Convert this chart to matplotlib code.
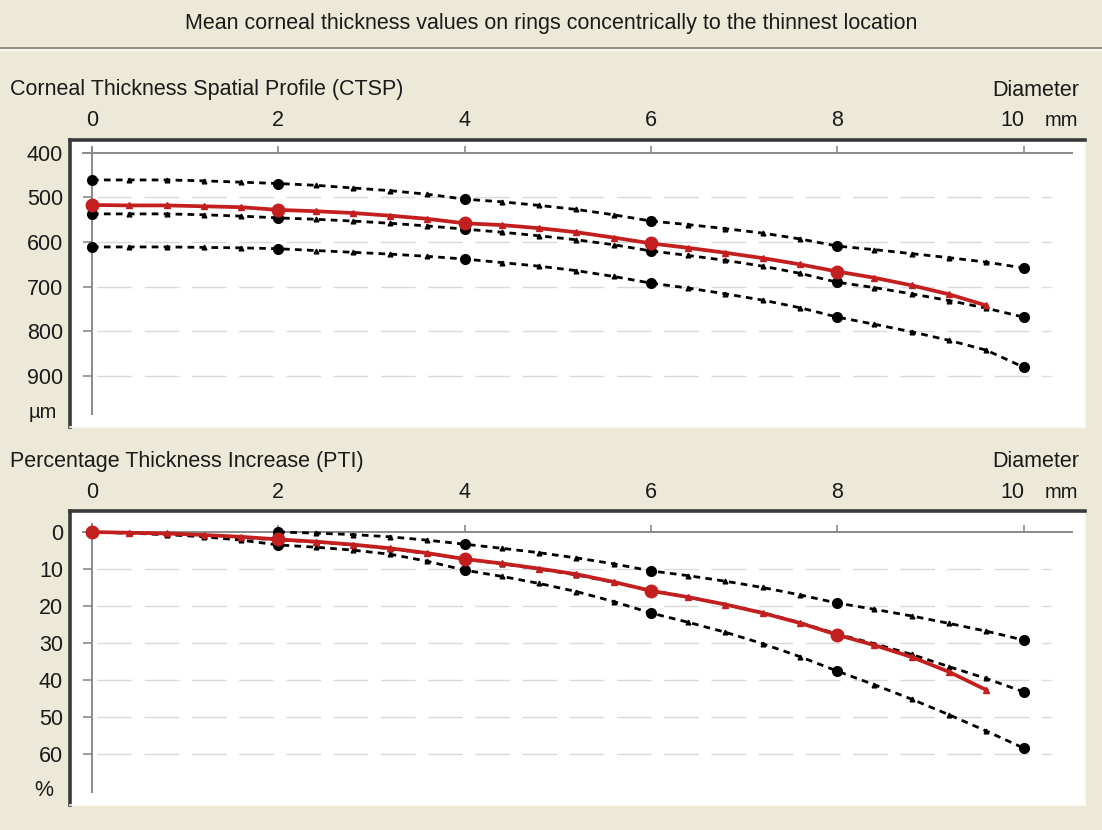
import matplotlib
matplotlib.use("Agg")
import matplotlib.pyplot as plt
from matplotlib.lines import Line2D

# ring diameters (mm), sampled every 0.4 mm
ring_mm = [0.0, 0.4, 0.8, 1.2, 1.6, 2.0, 2.4, 2.8, 3.2, 3.6, 4.0, 4.4, 4.8,
           5.2, 5.6, 6.0, 6.4, 6.8, 7.2, 7.6, 8.0, 8.4, 8.8, 9.2, 9.6, 10.0]

# CTSP (um): patient curve (to 9.6 mm) and normative bands
ctsp_patient = [517, 518, 518, 520, 522, 528, 531, 535, 541, 548, 558, 562, 569,
                578, 590, 603, 613, 624, 636, 650, 666, 680, 697, 717, 742]
ctsp_upper = [461, 461, 461, 463, 466, 469, 473, 479, 485, 493, 504, 510, 518,
              527, 539, 553, 561, 570, 580, 593, 609, 617, 626, 635, 645, 658]
ctsp_mean = [537, 537, 537, 539, 542, 546, 549, 553, 558, 564, 571, 578, 586,
             595, 606, 620, 630, 641, 654, 670, 690, 702, 716, 731, 748, 768]
ctsp_lower = [611, 611, 611, 612, 613, 615, 619, 623, 627, 632, 638, 646, 654,
              664, 677, 692, 703, 716, 730, 747, 768, 784, 801, 820, 842, 880]

# PTI (%): patient curve and normative bands (upper band starts at 2 mm)
pti_patient = [0, 0.2, 0.4, 0.8, 1.3, 2.0, 2.6, 3.4, 4.4, 5.7, 7.3, 8.5, 9.9,
               11.4, 13.5, 15.9, 17.6, 19.6, 21.9, 24.6, 27.8, 30.6, 33.8, 37.8, 42.7]
pti_upper = [0, 0.3, 0.7, 1.3, 2.2, 3.3, 4.4, 5.6, 7.0, 8.6, 10.5,
             11.8, 13.3, 15.0, 17.0, 19.2, 20.9, 22.7, 24.7, 26.8, 29.2]
pti_mean = [0, 0.3, 0.6, 1.0, 1.5, 2.1, 2.7, 3.5, 4.5, 5.8, 7.3, 8.6, 10.0,
            11.6, 13.6, 15.8, 17.6, 19.6, 21.8, 24.5, 27.6, 30.2, 33.1, 36.4, 39.6, 43.2]
pti_lower = [0, 0.3, 0.7, 1.3, 2.2, 3.5, 4.1, 4.9, 6.0, 7.9, 10.3, 12.0, 13.9,
             16.1, 18.8, 21.9, 24.4, 27.1, 30.2, 33.7, 37.6, 41.3, 45.2, 49.4, 53.8, 58.4]

mm_ticks = [0, 2, 4, 6, 8, 10]
ctsp_ticks = [400, 500, 600, 700, 800, 900]
pti_ticks = [0, 10, 20, 30, 40, 50, 60]

W, H = 1102, 830
BG = '#ECE9D8'
RED = '#c41f1f'
AXIS_GRAY = '#8a8a8a'
TXT = '#1a1a1a'
FS = 15.5
plt.rcParams['font.family'] = ['Liberation Sans', 'DejaVu Sans']

fig = plt.figure(figsize=(W / 100, H / 100), dpi=100, facecolor=BG)


def fx(px):
    return px / W


def fy(py):
    return 1 - py / H


# header with etched separator
fig.text(fx(551), fy(24), 'Mean corneal thickness values on rings concentrically to the thinnest location',
         ha='center', va='center', fontsize=FS, color=TXT)
fig.add_artist(Line2D([0, 1], [fy(48), fy(48)], color='#8f8d84', lw=1.4))
fig.add_artist(Line2D([0, 1], [fy(50), fy(50)], color='#fbfaf4', lw=1.2))


def even_mm(x):
    return [i for i, v in enumerate(x) if abs(v - round(v)) < 1e-6 and round(v) % 2 == 0]


def draw_band(ax, x, y):
    ax.plot(x, y, color='black', lw=2.0, ls=(0, (2.4, 1.9)), marker='^', ms=3.4, zorder=3)
    ax.plot(x, y, ls='none', marker='o', ms=7, color='black', markevery=even_mm(x), zorder=3)


def draw_patient(ax, x, y):
    ax.plot(x, y, color=RED, lw=2.7, marker='^', ms=4, zorder=4)
    ax.plot(x, y, ls='none', marker='o', ms=9, color=RED, markevery=even_mm(x), zorder=4)


def setup_panel(ax, title, yticks, y0, y_axis_top, y_axis_bot, y_tick_top, box_top_px):
    ax.set_facecolor('white')
    for side in ['top', 'left']:
        ax.spines[side].set_color('#3a3a3a')
        ax.spines[side].set_linewidth(2.6)
    for side in ['bottom', 'right']:
        ax.spines[side].set_color('#fbfbf7')
        ax.spines[side].set_linewidth(1.2)
    ax.set_xlim(-0.236, 10.66)
    ax.set_xticks([])
    ax.set_yticks(yticks)
    ax.set_yticklabels([str(v) for v in yticks], fontsize=FS, color=TXT)
    ax.tick_params(axis='y', length=0, pad=5)

    # inner axis lines, tick marks and dashed grid
    ax.hlines(y0, -0.107, 10.53, color=AXIS_GRAY, lw=1.4, zorder=2)
    ax.vlines(0, y_axis_top, y_axis_bot, color=AXIS_GRAY, lw=1.4, zorder=2)
    ax.vlines(mm_ticks, y_tick_top, y0, color=AXIS_GRAY, lw=1.2, zorder=2)
    ax.hlines(yticks[1:], -0.1, 0, color=AXIS_GRAY, lw=1.2, zorder=2)
    ax.hlines(yticks[1:], 0.05, 10.3, color='#d9d9d9', lw=1.0,
              linestyles=(0, (25, 9)), zorder=1)

    # diameter labels above the box
    for v in mm_ticks:
        dx = -11 if v == 10 else 0
        ax.annotate(str(v), (v, 1), xycoords=('data', 'axes fraction'), xytext=(dx, 19),
                    textcoords='offset pixels', ha='center', va='center',
                    fontsize=FS, color=TXT)
    fig.text(fx(1061), fy(box_top_px - 19), 'mm', ha='center', va='center', fontsize=FS - 1, color=TXT)
    fig.text(fx(1079), fy(box_top_px - 50), 'Diameter', ha='right', va='center', fontsize=FS, color=TXT)
    fig.text(fx(10), fy(box_top_px - 50), title, ha='left', va='center', fontsize=FS, color=TXT)


# Corneal Thickness Spatial Profile
ax1 = fig.add_axes([fx(70), fy(427), (1085 - 70) / W, (427 - 140) / H])
ax1.set_ylim(1014, 371.6)
setup_panel(ax1, 'Corneal Thickness Spatial Profile (CTSP)', ctsp_ticks,
            400, 387, 987, 385, 140)
fig.text(fx(43), fy(412), 'µm', ha='center', va='center', fontsize=FS - 1, color=TXT)
draw_band(ax1, ring_mm, ctsp_upper)
draw_band(ax1, ring_mm, ctsp_mean)
draw_band(ax1, ring_mm, ctsp_lower)
draw_patient(ax1, ring_mm[:len(ctsp_patient)], ctsp_patient)

# Percentage Thickness Increase
ax2 = fig.add_axes([fx(70), fy(805), (1085 - 70) / W, (805 - 511) / H])
ax2.set_ylim(73.8, -5.68)
setup_panel(ax2, 'Percentage Thickness Increase (PTI)', pti_ticks,
            0, -2.4, 70.5, -1.9, 511)
fig.text(fx(44), fy(790), '%', ha='center', va='center', fontsize=FS, color=TXT)
draw_band(ax2, ring_mm[5:], pti_upper)
draw_band(ax2, ring_mm, pti_mean)
draw_band(ax2, ring_mm, pti_lower)
draw_patient(ax2, ring_mm[:len(pti_patient)], pti_patient)

fig.savefig('out.png', dpi=100, facecolor=BG)
